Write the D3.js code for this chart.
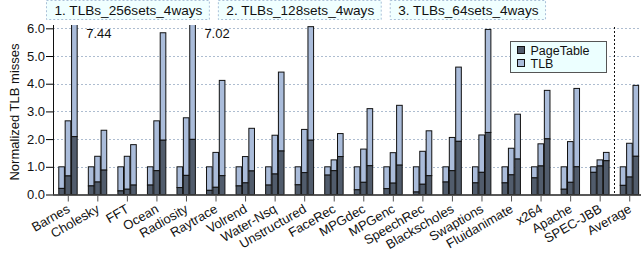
<!DOCTYPE html>
<html>
<head>
<meta charset="utf-8">
<script src="https://cdn.jsdelivr.net/npm/d3@7"></script>
<style>
  body { margin: 0; background: #fff; }
  text { font-family: "Liberation Sans", Arial, sans-serif; fill: #111; }
</style>
</head>
<body>
<div id="chart"></div>
<script>
// Benchmarks, last one is the average
const categories = ['Barnes', 'Cholesky', 'FFT', 'Ocean', 'Radiosity', 'Raytrace', 'Volrend',
  'Water-Nsq', 'Unstructured', 'FaceRec', 'MPGdec', 'MPGenc', 'SpeechRec', 'Blackscholes',
  'Swaptions', 'Fluidanimate', 'x264', 'Apache', 'SPEC-JBB', 'Average'];

const configLabels = ['1. TLBs_256sets_4ways', '2. TLBs_128sets_4ways', '3. TLBs_64sets_4ways'];

// PageTable part of the misses, one array per TLB config
const pageTable1 = [0.22, 0.31, 0.13, 0.34, 0.25, 0.15, 0.31, 0.34, 0.35, 0.70, 0.17, 0.21, 0.09, 0.45, 0.42, 0.42, 0.60, 0.19, 0.80, 0.33];
const pageTable2 = [0.67, 0.45, 0.19, 0.86, 0.69, 0.26, 0.42, 0.74, 0.79, 0.86, 0.44, 0.41, 0.37, 0.86, 0.80, 0.71, 1.03, 0.44, 1.03, 0.63];
const pageTable3 = [2.09, 0.88, 0.34, 1.96, 1.99, 0.68, 0.85, 1.57, 1.96, 1.37, 1.04, 1.06, 0.68, 1.92, 2.24, 1.28, 2.01, 1.00, 1.22, 1.38];

// TLB part of the misses
const tlb1 = [0.78, 0.69, 0.87, 0.66, 0.75, 0.85, 0.69, 0.66, 0.65, 0.30, 0.83, 0.79, 0.91, 0.55, 0.58, 0.58, 0.40, 0.81, 0.20, 0.67];
const tlb2 = [1.99, 0.93, 1.19, 1.80, 2.08, 1.26, 0.95, 1.40, 1.56, 0.39, 1.20, 1.10, 1.19, 1.20, 1.35, 0.96, 0.80, 1.47, 0.22, 1.22];
const tlb3 = [5.35, 1.44, 1.46, 3.88, 5.03, 3.44, 1.54, 2.85, 4.10, 0.83, 2.06, 2.16, 1.62, 2.68, 3.72, 1.62, 1.75, 2.83, 0.30, 2.56];

const yTicks = [0, 1, 2, 3, 4, 5, 6];

const pageTable = [pageTable1, pageTable2, pageTable3];
const tlb = [tlb1, tlb2, tlb3];

const width = 641, height = 254;
const margin = { left: 53, right: 0, top: 25, bottom: 59.5 };
const yMax = 6.12;
const colors = { pt: '#515c6c', tlb: '#aabcda' };

const svg = d3.select('#chart').append('svg')
  .attr('width', width)
  .attr('height', height);

const x0 = d3.scalePoint()
  .domain(categories)
  .range([margin.left, 644])
  .padding(0.5);

const x1 = d3.scaleBand()
  .domain([0, 1, 2])
  .range([-9, 9.4])
  .paddingInner(0.12);

const y = d3.scaleLinear()
  .domain([0, yMax])
  .range([height - margin.bottom, margin.top]);

svg.append('defs').append('clipPath').attr('id', 'plot')
  .append('rect')
  .attr('x', margin.left).attr('y', margin.top)
  .attr('width', width - margin.left).attr('height', y(0) - margin.top);

// grid lines
svg.append('g')
  .selectAll('line')
  .data(yTicks.filter(d => d > 0))
  .join('line')
  .attr('x1', margin.left).attr('x2', width)
  .attr('y1', d => Math.round(y(d)) + 0.5).attr('y2', d => Math.round(y(d)) + 0.5)
  .attr('stroke', '#aebdd0')
  .attr('stroke-dasharray', '2,2');

// dotted separator before Average
const sepX = (x0('SPEC-JBB') + x0('Average')) / 2;
svg.append('line')
  .attr('x1', Math.round(sepX) + 0.5).attr('x2', Math.round(sepX) + 0.5)
  .attr('y1', margin.top + 2).attr('y2', y(0))
  .attr('stroke', '#111')
  .attr('stroke-dasharray', '2,2');

// stacked bars
const rows = [];
categories.forEach((c, i) => {
  for (let k = 0; k < 3; k++) {
    rows.push({ cat: c, cfg: k, pt: pageTable[k][i], tlb: tlb[k][i] });
  }
});

const bars = svg.append('g').attr('clip-path', 'url(#plot)');
const groups = bars.selectAll('g')
  .data(rows)
  .join('g')
  .attr('transform', d => `translate(${x0(d.cat) + x1(d.cfg)},0)`);

groups.append('rect')
  .attr('width', x1.bandwidth())
  .attr('y', d => y(d.pt + d.tlb))
  .attr('height', d => y(d.pt) - y(d.pt + d.tlb))
  .attr('fill', colors.tlb)
  .attr('stroke', '#111');

groups.append('rect')
  .attr('width', x1.bandwidth())
  .attr('y', d => y(d.pt))
  .attr('height', d => y(0) - y(d.pt))
  .attr('fill', colors.pt)
  .attr('stroke', '#111');

// values of bars running off the top
svg.append('g')
  .selectAll('text')
  .data(rows.filter(d => d.pt + d.tlb > yMax))
  .join('text')
  .attr('x', d => x0(d.cat) + x1(d.cfg) + x1.bandwidth() + 9)
  .attr('y', 38)
  .attr('font-size', 13)
  .text(d => (d.pt + d.tlb).toFixed(2));

// axes
const yAxis = svg.append('g')
  .attr('transform', `translate(${margin.left},0)`)
  .call(d3.axisLeft(y).tickValues(yTicks).tickFormat(d3.format('.1f')).tickSize(7).tickPadding(1));
yAxis.select('.domain').attr('stroke', '#111').attr('d', `M0.5,${y(0)}V${margin.top}`);
yAxis.selectAll('.tick text').attr('font-size', 13).attr('font-family', '"Liberation Sans", Arial, sans-serif');

const xAxis = svg.append('g')
  .attr('transform', `translate(0,${y(0)})`)
  .call(d3.axisBottom(x0).tickSize(7).tickFormat(''));
xAxis.select('.domain').attr('stroke', '#222').attr('stroke-width', 1.3).attr('d', `M${margin.left},0.5H${width}`);
xAxis.selectAll('.tick line').attr('stroke', '#555').attr('y1', 1.5);

svg.append('g')
  .selectAll('text')
  .data(categories)
  .join('text')
  .attr('transform', d => `translate(${x0(d) + 3},${y(0) + 17}) rotate(-30)`)
  .attr('text-anchor', 'end')
  .attr('font-size', 13)
  .text(d => d);

// y label
svg.append('text')
  .attr('transform', `translate(19,112) rotate(-90)`)
  .attr('text-anchor', 'middle')
  .attr('font-size', 13)
  .text('Normalized TLB misses');

// config legend across the top
let bx = 46.5;
configLabels.forEach(label => {
  const g = svg.append('g');
  const t = g.append('text')
    .attr('x', bx + 8).attr('y', 15)
    .attr('font-size', 13.6)
    .text(label);
  const w = t.node().getComputedTextLength() + 15;
  g.insert('rect', 'text')
    .attr('x', bx).attr('y', 0.5)
    .attr('width', w).attr('height', 19)
    .attr('fill', '#f0ffff')
    .attr('stroke', '#a9c0d8')
    .attr('stroke-dasharray', '2,2');
  bx += w + 9;
});

// series legend
const lg = svg.append('g').attr('transform', 'translate(510.5,41.5)');
lg.append('rect')
  .attr('width', 96).attr('height', 31)
  .attr('fill', '#ecffff')
  .attr('stroke', '#555');
const series = [['PageTable', colors.pt], ['TLB', colors.tlb]];
series.forEach(([name, col], i) => {
  lg.append('rect')
    .attr('x', 7).attr('y', 5 + i * 13)
    .attr('width', 7).attr('height', 7)
    .attr('fill', col).attr('stroke', '#111');
  lg.append('text')
    .attr('x', 20).attr('y', 13 + i * 13)
    .attr('font-size', 12.5)
    .text(name);
});
</script>
</body>
</html>
